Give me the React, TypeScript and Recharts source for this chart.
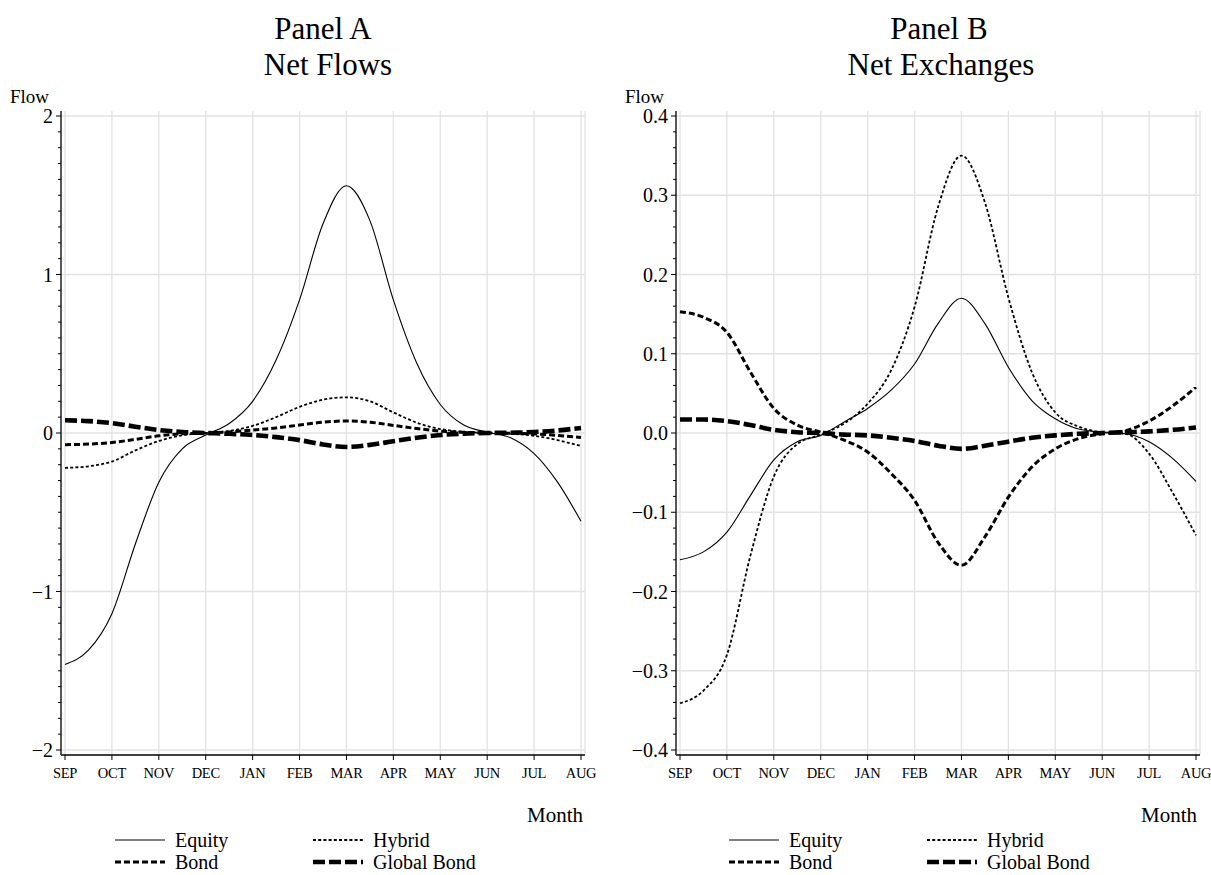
import React from "react";
import { LineChart, Line, XAxis, YAxis, CartesianGrid } from "recharts";

const FONT = "'Liberation Serif', 'DejaVu Serif', serif";

const months = ["SEP", "OCT", "NOV", "DEC", "JAN", "FEB", "MAR", "APR", "MAY", "JUN", "JUL", "AUG"];
const monthTicks = [0, 1, 2, 3, 4, 5, 6, 7, 8, 9, 10, 11];
const monthPos = [0, 0.5, 1, 1.5, 2, 2.5, 3, 3.5, 4, 4.5, 5, 5.5, 6, 6.5, 7, 7.5, 8, 8.5, 9, 9.5, 10, 10.5, 11];

// Panel A: Net Flows
const flowEquity = [-1.46, -1.37, -1.14, -0.7, -0.31, -0.1, -0.013, 0.06, 0.2, 0.46, 0.84, 1.32, 1.56, 1.34, 0.84, 0.44, 0.18, 0.05, 0.005, -0.03, -0.13, -0.31, -0.557];
const flowHybrid = [-0.22, -0.21, -0.18, -0.11, -0.05, -0.015, 0, 0.013, 0.045, 0.1, 0.165, 0.21, 0.225, 0.2, 0.13, 0.065, 0.025, 0.008, 0, -0.005, -0.018, -0.045, -0.082];
const flowBond = [-0.074, -0.07, -0.06, -0.04, -0.018, -0.005, 0, 0.007, 0.018, 0.032, 0.05, 0.068, 0.076, 0.068, 0.048, 0.028, 0.012, 0.004, 0, -0.002, -0.006, -0.015, -0.028];
const flowGlobal = [0.08, 0.075, 0.062, 0.04, 0.019, 0.006, 0, -0.005, -0.013, -0.026, -0.045, -0.072, -0.088, -0.075, -0.052, -0.03, -0.013, -0.004, 0, 0.002, 0.006, 0.016, 0.032];

// Panel B: Net Exchanges
const exchEquity = [-0.16, -0.15, -0.125, -0.079, -0.034, -0.011, -0.003, 0.014, 0.031, 0.054, 0.087, 0.138, 0.17, 0.138, 0.083, 0.041, 0.018, 0.005, 0.001, -0.001, -0.011, -0.032, -0.061];
const exchHybrid = [-0.341, -0.325, -0.28, -0.155, -0.055, -0.014, -0.002, 0.012, 0.037, 0.079, 0.159, 0.285, 0.35, 0.291, 0.171, 0.077, 0.026, 0.008, 0.001, -0.001, -0.026, -0.075, -0.129];
const exchBond = [0.153, 0.146, 0.127, 0.077, 0.031, 0.01, 0.001, -0.009, -0.024, -0.051, -0.085, -0.138, -0.167, -0.131, -0.081, -0.043, -0.02, -0.007, -0.001, 0.003, 0.015, 0.034, 0.058];
const exchGlobal = [0.017, 0.017, 0.015, 0.01, 0.004, 0.001, 0, -0.002, -0.003, -0.006, -0.01, -0.016, -0.02, -0.016, -0.011, -0.006, -0.003, -0.001, 0, 0.001, 0.002, 0.004, 0.007];

const yTicksA = [-2, -1, 0, 1, 2];
const yTicksB = [-0.4, -0.3, -0.2, -0.1, 0, 0.1, 0.2, 0.3, 0.4];

const seriesStyles = [
  { key: "equity", name: "Equity", width: 1.1, dash: undefined as string | undefined },
  { key: "hybrid", name: "Hybrid", width: 1.8, dash: "3 2.2" },
  { key: "bond", name: "Bond", width: 3, dash: "6 3" },
  { key: "global", name: "Global Bond", width: 4.6, dash: "12 4" },
];

const buildData = (eq: number[], hy: number[], bo: number[], gl: number[]) =>
  monthPos.map((m, i) => ({ m, equity: eq[i], hybrid: hy[i], bond: bo[i], global: gl[i] }));

const dataA = buildData(flowEquity, flowHybrid, flowBond, flowGlobal);
const dataB = buildData(exchEquity, exchHybrid, exchBond, exchGlobal);

const makeMinor = (lo: number, hi: number, step: number) => {
  const out: number[] = [];
  const n = Math.round((hi - lo) / step);
  for (let i = 0; i <= n; i++) out.push(Math.round((lo + i * step) * 1000) / 1000);
  return out;
};

const minorA = makeMinor(-2, 2, 0.1);
const minorB = makeMinor(-0.4, 0.4, 0.02);

const fmtA = (v: number) => (v < 0 ? "\u2212" + Math.abs(v) : String(v));
const fmtB = (v: number) => (v < 0 ? "\u2212" + Math.abs(v).toFixed(1) : v.toFixed(1));

const makeYTick = (majors: number[], fmt: (v: number) => string) => (props: any) => {
  const { x, y, payload } = props;
  const v = payload.value as number;
  const major = majors.some((m) => Math.abs(m - v) < 1e-6);
  return (
    <g>
      <line x1={x} x2={x - (major ? 5 : 3)} y1={y} y2={y} stroke="#000" strokeWidth={1} />
      {major && (
        <text x={x - 8} y={y} dy="0.35em" textAnchor="end" fontSize={20} fontFamily={FONT} fill="#000">
          {fmt(v)}
        </text>
      )}
    </g>
  );
};

type PanelProps = {
  data: any[];
  width: number;
  left: number;
  marginLeft: number;
  marginRight: number;
  yWidth: number;
  domain: [number, number];
  minor: number[];
  majors: number[];
  fmt: (v: number) => string;
};

const Panel = ({ data, width, left, marginLeft, marginRight, yWidth, domain, minor, majors, fmt }: PanelProps) => (
  <div style={{ position: "absolute", left, top: 0 }}>
    <LineChart
      width={width}
      height={875}
      data={data}
      margin={{ top: 111, right: marginRight, bottom: 90, left: marginLeft }}
    >
      <CartesianGrid stroke="#e2e2e2" strokeWidth={1.3} horizontalValues={majors} />
      <XAxis
        dataKey="m"
        type="number"
        domain={[0, 11]}
        ticks={monthTicks}
        interval={0}
        padding={{ left: 4, right: 4 }}
        height={30}
        tickFormatter={(v: number) => months[v]}
        tickSize={5}
        tickMargin={8}
        tickLine={{ stroke: "#000", strokeWidth: 1 }}
        axisLine={{ stroke: "#000", strokeWidth: 1.5 }}
        tick={{ fontSize: 14.5, fontFamily: FONT, fill: "#000", letterSpacing: -0.3 }}
      />
      <XAxis
        xAxisId="top"
        orientation="top"
        dataKey="m"
        type="number"
        domain={[0, 11]}
        padding={{ left: 4, right: 4 }}
        height={0}
        tick={false}
        tickLine={false}
        axisLine={{ stroke: "#000", strokeWidth: 1.5 }}
      />
      <YAxis
        type="number"
        domain={domain}
        ticks={minor}
        interval={0}
        width={yWidth}
        padding={{ top: 5, bottom: 5 }}
        tickLine={false}
        tickSize={0}
        tickMargin={0}
        axisLine={{ stroke: "#333", strokeWidth: 1.6 }}
        tick={makeYTick(majors, fmt)}
      />
      <YAxis
        yAxisId="right"
        orientation="right"
        type="number"
        domain={domain}
        width={0}
        padding={{ top: 5, bottom: 5 }}
        tick={false}
        tickLine={false}
        axisLine={{ stroke: "#000", strokeWidth: 1.5 }}
      />
      {seriesStyles.map((s) => (
        <Line
          key={s.key}
          dataKey={s.key}
          name={s.name}
          type="monotone"
          stroke="#000"
          strokeWidth={s.width}
          strokeDasharray={s.dash}
          dot={false}
          activeDot={false}
          isAnimationActive={false}
        />
      ))}
    </LineChart>
  </div>
);

const LegendBlock = ({ x0 }: { x0: number }) => {
  const colX = [x0, x0 + 198];
  const rowY = [840, 862];
  return (
    <g>
      {seriesStyles.map((s, i) => {
        const col = i === 0 || i === 2 ? 0 : 1;
        const row = i < 2 ? 0 : 1;
        const lx = colX[col];
        const ly = rowY[row];
        return (
          <g key={s.key}>
            <line x1={lx} x2={lx + 50} y1={ly} y2={ly} stroke="#000" strokeWidth={s.width} strokeDasharray={s.dash} />
            <text x={lx + 60} y={ly + 7} fontSize={20} fontFamily={FONT} fill="#000">
              {s.name}
            </text>
          </g>
        );
      })}
    </g>
  );
};

export default function App() {
  return (
    <div style={{ position: "absolute", left: 0, top: 0, width: 1211, height: 875, background: "#fff", overflow: "hidden" }}>
      <Panel data={dataA} width={600} left={0} marginLeft={11} marginRight={15} yWidth={50} domain={[-2, 2]} minor={minorA} majors={yTicksA} fmt={fmtA} />
      <Panel data={dataB} width={611} left={600} marginLeft={16} marginRight={11} yWidth={60} domain={[-0.4, 0.4]} minor={minorB} majors={yTicksB} fmt={fmtB} />
      <svg width={1211} height={875} style={{ position: "absolute", left: 0, top: 0, pointerEvents: "none" }}>
        <text x={323} y={39} textAnchor="middle" fontSize={31} fontFamily={FONT} fill="#000">Panel A</text>
        <text x={328} y={75} textAnchor="middle" fontSize={31} fontFamily={FONT} fill="#000">Net Flows</text>
        <text x={939} y={39} textAnchor="middle" fontSize={31} fontFamily={FONT} fill="#000">Panel B</text>
        <text x={941} y={75} textAnchor="middle" fontSize={31} fontFamily={FONT} fill="#000">Net Exchanges</text>
        <text x={10} y={103} fontSize={19} fontFamily={FONT} fill="#000">Flow</text>
        <text x={625} y={103} fontSize={19} fontFamily={FONT} fill="#000">Flow</text>
        <text x={583} y={822} textAnchor="end" fontSize={21} fontFamily={FONT} fill="#000">Month</text>
        <text x={1197} y={822} textAnchor="end" fontSize={21} fontFamily={FONT} fill="#000">Month</text>
        <LegendBlock x0={115} />
        <LegendBlock x0={729} />
      </svg>
    </div>
  );
}
